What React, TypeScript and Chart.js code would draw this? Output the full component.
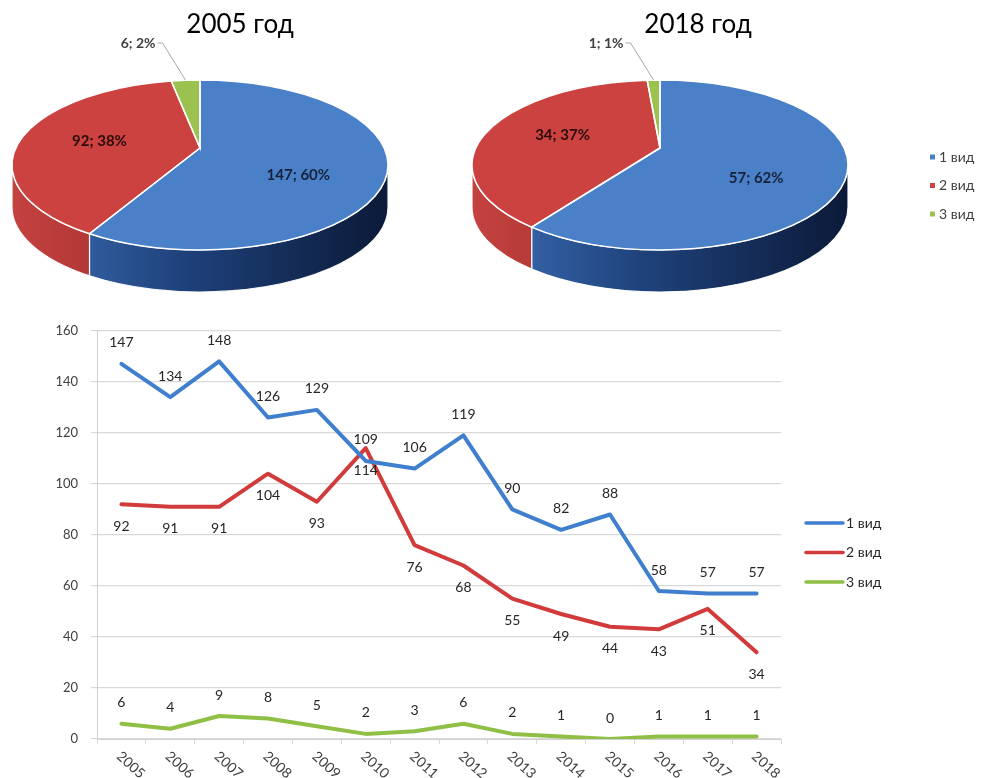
import React, { useEffect, useRef } from 'react';
import { Chart, registerables } from 'chart.js';

Chart.register(...registerables);

// ---------- data ----------
const years = ['2005', '2006', '2007', '2008', '2009', '2010', '2011', '2012', '2013', '2014', '2015', '2016', '2017', '2018'];
const seriesNames = ['1 вид', '2 вид', '3 вид'];
const vid1 = [147, 134, 148, 126, 129, 109, 106, 119, 90, 82, 88, 58, 57, 57];
const vid2 = [92, 91, 91, 104, 93, 114, 76, 68, 55, 49, 44, 43, 51, 34];
const vid3 = [6, 4, 9, 8, 5, 2, 3, 6, 2, 1, 0, 1, 1, 1];
const pie2005 = [147, 92, 6];
const pie2018 = [57, 34, 1];
const pieTitles = ['2005 год', '2018 год'];
const yMin = 0;
const yMax = 160;
const yStep = 20;

// ---------- styles ----------
const FONT = 'Lato, "Open Sans", sans-serif';
const lineColors = ['#3f7fce', '#d13b3b', '#8fc045'];
const pieTopColors = ['#4a80c8', '#cb4240', '#9bc24f'];
const pieSideStops: [number, string][][] = [
  [[0, '#3d70b6'], [0.45, '#1f427c'], [1, '#0b1a38']],
  [[0, '#c4423f'], [0.5, '#9a2a28'], [1, '#5a1414']],
  [[0, '#86a844'], [1, '#4a6222']],
];
const pieLabelColors = ['#17223a', '#2a0c0c', '#404040'];

type Geom = { cx: number; cy: number; rx: number; ry: number; depth: number; apexDy: number; legend: boolean; legendX: number; legendY: number };

function makePie3d(g: Geom) {
  return {
    id: 'pie3d',
    beforeDatasetsDraw(chart: any) {
      const ctx = chart.ctx as CanvasRenderingContext2D;
      const meta = chart.getDatasetMeta(0);
      const values = chart.data.datasets[0].data as number[];
      const total = values.reduce((a, b) => a + b, 0);
      const arcs = meta.data as any[];
      const { cx, cy, rx, ry, depth } = g;
      ctx.save();
      // side walls (front half only)
      arcs.forEach((arc, i) => {
        const s = Math.max(arc.startAngle, 0);
        const e = Math.min(arc.endAngle, Math.PI);
        if (e <= s) return;
        const grad = ctx.createLinearGradient(cx - rx, 0, cx + rx, 0);
        pieSideStops[i].forEach(([o, c]) => grad.addColorStop(o, c));
        ctx.beginPath();
        ctx.ellipse(cx, cy, rx, ry, 0, s, e, false);
        ctx.lineTo(cx + rx * Math.cos(e), cy + depth + ry * Math.sin(e));
        ctx.ellipse(cx, cy + depth, rx, ry, 0, e, s, true);
        ctx.closePath();
        ctx.fillStyle = grad;
        ctx.fill();
        ctx.strokeStyle = 'rgba(255,255,255,0.95)';
        ctx.lineWidth = 1.2;
        ctx.stroke();
      });
      // top faces (apex lifted to mimic perspective)
      const ax = cx;
      const ay = cy + g.apexDy;
      arcs.forEach((arc, i) => {
        ctx.beginPath();
        ctx.moveTo(ax, ay);
        ctx.ellipse(cx, cy, rx, ry, 0, arc.startAngle, arc.endAngle, false);
        ctx.closePath();
        ctx.fillStyle = pieTopColors[i];
        ctx.fill();
      });
      arcs.forEach((arc) => {
        ctx.beginPath();
        ctx.moveTo(ax, ay);
        ctx.ellipse(cx, cy, rx, ry, 0, arc.startAngle, arc.endAngle, false);
        ctx.closePath();
        ctx.strokeStyle = '#ffffff';
        ctx.lineWidth = 1.5;
        ctx.stroke();
      });
      // labels
      arcs.forEach((arc, i) => {
        const v = values[i];
        const pct = Math.round((v / total) * 100);
        const text = `${v}; ${pct}%`;
        const m = (arc.startAngle + arc.endAngle) / 2;
        ctx.font = `bold 15px ${FONT}`;
        ctx.textBaseline = 'middle';
        if (v / total < 0.05) {
          const tx = cx + rx * Math.cos(m);
          const ty = cy + ry * Math.sin(m);
          const ex = tx - 23;
          const ey = 43;
          ctx.beginPath();
          ctx.moveTo(tx, ty);
          ctx.lineTo(ex, ey);
          ctx.lineTo(ex - 5, ey);
          ctx.strokeStyle = '#a6a6a6';
          ctx.lineWidth = 1;
          ctx.stroke();
          ctx.fillStyle = pieLabelColors[i];
          ctx.textAlign = 'right';
          ctx.font = `bold 14px ${FONT}`;
          ctx.fillText(text, ex - 7, ey);
        } else {
          const lx = cx + 0.55 * rx * Math.cos(m);
          const ly = cy + 0.62 * ry * Math.sin(m) - 9 * (1 - Math.sin(m));
          ctx.fillStyle = pieLabelColors[i];
          ctx.textAlign = 'center';
          ctx.fillText(text, lx, ly);
        }
      });
      // legend
      if (g.legend) {
        const labels = chart.data.labels as string[];
        ctx.font = `14px ${FONT}`;
        ctx.textAlign = 'left';
        ctx.textBaseline = 'middle';
        labels.forEach((lab, i) => {
          const y = g.legendY + i * 28.5;
          ctx.fillStyle = pieTopColors[i];
          ctx.fillRect(g.legendX, y - 2.5, 5, 5);
          ctx.fillStyle = '#404040';
          ctx.fillText(lab, g.legendX + 9, y);
        });
      }
      ctx.restore();
      return false;
    },
  };
}

function PieChart(props: { values: number[]; title: string; left: number; width: number; padRight: number; geom: Geom }) {
  const ref = useRef<HTMLCanvasElement | null>(null);
  useEffect(() => {
    if (!ref.current) return;
    const chart = new Chart(ref.current, {
      type: 'pie',
      data: {
        labels: seriesNames,
        datasets: [{ data: props.values, backgroundColor: pieTopColors, borderWidth: 0 }],
      },
      options: {
        animation: false,
        responsive: false,
        events: [],
        layout: { padding: { right: props.padRight } },
        plugins: {
          legend: { display: false },
          tooltip: { enabled: false },
          title: {
            display: true,
            text: props.title,
            color: '#000000',
            font: { family: FONT, size: 26, weight: 'normal' },
            padding: { top: 9, bottom: 0 },
          },
        },
      } as any,
      plugins: [makePie3d(props.geom)],
    });
    return () => chart.destroy();
  }, []);
  return (
    <canvas
      ref={ref}
      width={props.width}
      height={300}
      style={{ position: 'absolute', left: props.left, top: 0, width: props.width, height: 300 }}
    />
  );
}

const lineExtras = {
  id: 'lineExtras',
  afterDraw(chart: any) {
    const ctx = chart.ctx as CanvasRenderingContext2D;
    ctx.save();
    // data labels
    ctx.font = `14px ${FONT}`;
    ctx.fillStyle = '#262626';
    ctx.textAlign = 'center';
    ctx.textBaseline = 'middle';
    chart.data.datasets.forEach((ds: any, di: number) => {
      const meta = chart.getDatasetMeta(di);
      const dy = di === 1 ? 22 : -21;
      meta.data.forEach((pt: any, j: number) => {
        ctx.fillText(String(ds.data[j]), pt.x, pt.y + dy);
      });
    });
    // rotated x labels
    const xs = chart.scales.x;
    ctx.font = `14px ${FONT}`;
    ctx.fillStyle = '#404040';
    ctx.textAlign = 'left';
    ctx.textBaseline = 'top';
    (chart.data.labels as string[]).forEach((lab, i) => {
      const x = xs.getPixelForValue(i);
      ctx.save();
      ctx.translate(x + 2, chart.chartArea.bottom + 10);
      ctx.rotate((42 * Math.PI) / 180);
      ctx.fillText(lab, 0, 0);
      ctx.restore();
    });
    // legend
    ctx.font = `14px ${FONT}`;
    ctx.textBaseline = 'middle';
    chart.data.datasets.forEach((ds: any, di: number) => {
      const y = 213 + di * 29.5;
      ctx.beginPath();
      ctx.moveTo(806, y);
      ctx.lineTo(843, y);
      ctx.strokeStyle = ds.borderColor;
      ctx.lineWidth = 3.5;
      ctx.lineCap = 'round';
      ctx.stroke();
      ctx.fillStyle = '#262626';
      ctx.fillText(ds.label, 846, y);
    });
    ctx.restore();
  },
};

function LineChart() {
  const ref = useRef<HTMLCanvasElement | null>(null);
  useEffect(() => {
    if (!ref.current) return;
    const series = [vid1, vid2, vid3];
    const chart = new Chart(ref.current, {
      type: 'line',
      data: {
        labels: years,
        datasets: series.map((d, i) => ({
          label: seriesNames[i],
          data: d,
          borderColor: lineColors[i],
          backgroundColor: lineColors[i],
          borderWidth: 4,
          pointRadius: 0,
          tension: 0,
          borderJoinStyle: 'round',
          borderCapStyle: 'round',
          fill: false,
        })),
      },
      options: {
        animation: false,
        responsive: false,
        events: [],
        layout: { padding: { top: 19, right: 200, left: 0, bottom: 0 } },
        plugins: { legend: { display: false }, tooltip: { enabled: false } },
        scales: {
          x: {
            offset: true,
            grid: { display: true, drawOnChartArea: false, offset: true, tickLength: 5, color: '#d9d9d9' },
            border: { display: true, color: '#d0d0d0' },
            ticks: { display: false },
            afterFit: (s: any) => { s.height = 39; },
          },
          y: {
            min: yMin,
            max: yMax,
            ticks: { stepSize: yStep, color: '#404040', font: { family: FONT, size: 13 }, padding: 13 },
            grid: { color: '#d9d9d9', tickLength: 6, lineWidth: 1.2 },
            border: { display: true, color: '#d0d0d0' },
            afterFit: (s: any) => { s.width = 97; },
          },
        },
      } as any,
      plugins: [lineExtras],
    });
    return () => chart.destroy();
  }, []);
  return (
    <canvas
      ref={ref}
      width={981}
      height={468}
      style={{ position: 'absolute', left: 0, top: 310, width: 981, height: 468 }}
    />
  );
}

export default function App() {
  return (
    <div style={{ position: 'absolute', left: 0, top: 0, width: 981, height: 778, background: '#ffffff', overflow: 'hidden' }}>
      <PieChart
        values={pie2005}
        title={pieTitles[0]}
        left={0}
        width={480}
        padRight={0}
        geom={{ cx: 200, cy: 165, rx: 188, ry: 85, depth: 42, apexDy: -17, legend: false, legendX: 0, legendY: 0 }}
      />
      <PieChart
        values={pie2018}
        title={pieTitles[1]}
        left={460}
        width={521}
        padRight={45}
        geom={{ cx: 200, cy: 165, rx: 188, ry: 85, depth: 42, apexDy: -17, legend: true, legendX: 470, legendY: 157 }}
      />
      <LineChart />
    </div>
  );
}
